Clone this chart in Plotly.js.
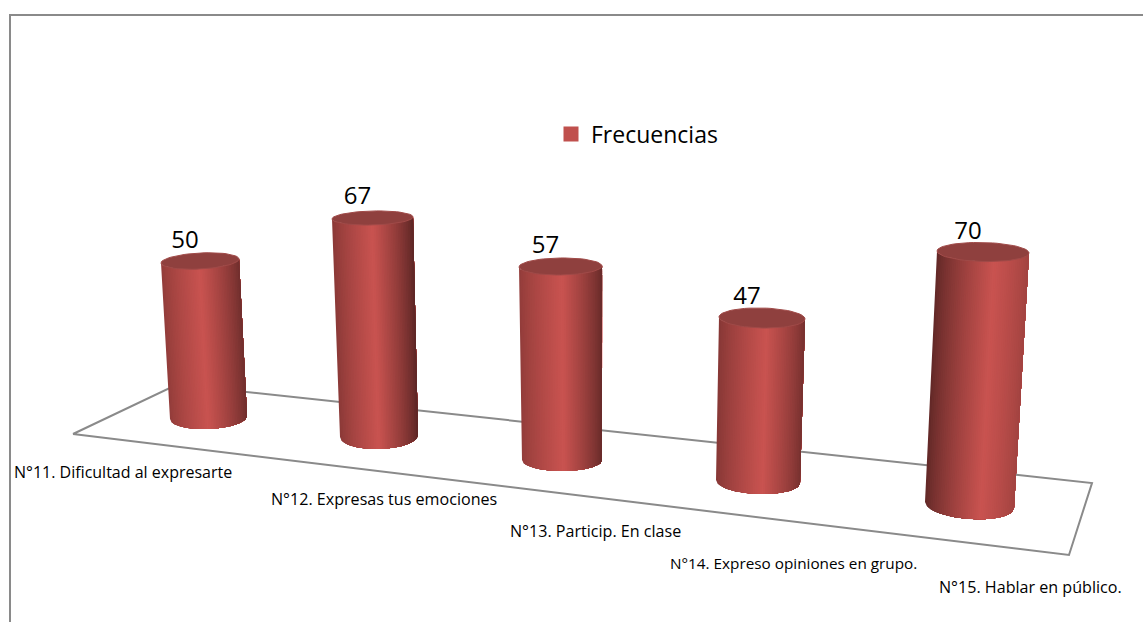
<!DOCTYPE html>
<html><head><meta charset="utf-8">
<script src="https://cdn.plot.ly/plotly-3.0.1.min.js"></script>
<style>html,body{margin:0;padding:0;background:#fff}#c{width:1143px;height:622px}</style>
</head><body><div id="c"></div>
<script>
// ---- data ----
const categories = ["N°11. Dificultad al expresarte","N°12. Expresas tus emociones","N°13. Particip. En clase","N°14. Expreso opiniones en grupo.","N°15. Hablar en público."];
const values = [50, 67, 57, 47, 70];
const seriesName = "Frecuencias";

// ---- 3D projection (pixel scene) ----
const baseX = [208.5, 379, 562, 758, 969.5];
const baseY = [417.5, 436, 460, 481.5, 505];
const unitH = [3.13, 3.254, 3.395, 3.479, 3.614];   // px per value unit
const lean  = [-0.17, -0.097, -0.026, 0.085, 0.193]; // px of x per value unit
const topRx = [39, 40.5, 41.5, 43, 46];
const topRy = [8, 7, 8.5, 10, 9.5];
const topTilt = [-2, -1, -0.5, 1, 1];
const botRx = [38.5, 39, 40, 42, 44.5];
const botRy = [11.5, 13, 11, 12.5, 14];
const botTilt = [-1.5, -1, 0, 1.5, 3];
const peakU = [0.5, 0.5, 0.52, 0.55, 0.62];
const darkL = [0.72, 0.68, 0.72, 0.66, 0.48];
const darkR = [0.55, 0.45, 0.5, 0.58, 0.8];
const floorX = [73, 177, 1092, 1069, 73];
const floorY = [434, 384.5, 483, 555, 434];
const labelX = [14, 271, 510, 670, 939];
const labelY = [473.5, 500.5, 533, 565.5, 588.5];
const labelSize = [16, 16.1, 16.1, 15.3, 16.1];
const frameX = [10, 10, 1143];
const frameY = [622, 15, 15];

const light = [201, 83, 80], STRIPS = 48, GRAY = "#8a8a8a";
const FONT = "Open Sans, Noto Sans, sans-serif";
const tops = values.map((v,i)=>({x: baseX[i]+lean[i]*v, y: baseY[i]-unitH[i]*v}));
const col = k => `rgb(${light.map(c=>Math.round(c*k)).join(",")})`;
function rim(cx,cy,rx,ry,tilt,u){ // front half of an ellipse, u 0..1 left to right
  const c = 2*u-1;
  return [cx+rx*c, cy+ry*Math.sqrt(Math.max(0,1-c*c))+tilt*c];
}
const traces = [];
traces.push({x:floorX,y:floorY,mode:"lines",line:{color:GRAY,width:2},hoverinfo:"skip",showlegend:false});
values.forEach((v,i)=>{
  for(let s=0;s<STRIPS;s++){
    const um=(s+0.5)/STRIPS,p=peakU[i];
    const t= um<p? um/p : (1-um)/(1-p);
    const d= um<p? darkL[i]:darkR[i];
    const k= d+(1-d)*Math.pow(t,0.8);
    // each band runs from its left edge to the cylinder's right edge, later bands paint over it
    const xs=[],ys=[];
    for(let q=s;q<=STRIPS;q++){const a=rim(tops[i].x,tops[i].y,topRx[i],topRy[i],topTilt[i],q/STRIPS);xs.push(a[0]);ys.push(a[1]);}
    for(let q=STRIPS;q>=s;q--){const a=rim(baseX[i],baseY[i],botRx[i],botRy[i],botTilt[i],q/STRIPS);xs.push(a[0]);ys.push(a[1]);}
    xs.push(xs[0]);ys.push(ys[0]);
    traces.push({x:xs,y:ys,mode:"lines",fill:"toself",fillcolor:col(k),line:{width:0},hoverinfo:"skip",showlegend:false});
  }
  const ex=[],ey=[];
  for(let a=0;a<=60;a++){const th=a/60*2*Math.PI;
    ex.push(tops[i].x+topRx[i]*Math.cos(th));
    ey.push(tops[i].y+topRy[i]*Math.sin(th)+topTilt[i]*Math.cos(th));}
  traces.push({x:ex,y:ey,mode:"lines",fill:"toself",fillcolor:"#8f403e",line:{color:"#a04a48",width:1},hoverinfo:"skip",showlegend:false});
});
traces.push({x:tops.map(t=>t.x-15),y:tops.map(t=>t.y-19.5),mode:"text",text:values.map(String),
  textposition:"middle center",textfont:{family:FONT,size:24,color:"#000"},hoverinfo:"text",showlegend:false});
traces.push({x:labelX,y:labelY,mode:"text",text:categories,textposition:"middle right",
  textfont:{family:FONT,size:labelSize,color:"#000"},hoverinfo:"text",showlegend:false});
traces.push({x:[null],y:[null],mode:"markers",name:seriesName,marker:{symbol:"square",size:15,color:"#C0504D"},showlegend:true});
traces.push({x:frameX,y:frameY,mode:"lines",line:{color:GRAY,width:2},hoverinfo:"skip",showlegend:false});

Plotly.newPlot("c",traces,{
  width:1143,height:622,margin:{l:0,r:0,t:0,b:0},paper_bgcolor:"#fff",plot_bgcolor:"#fff",
  xaxis:{range:[0,1143],visible:false,fixedrange:true},
  yaxis:{range:[622,0],visible:false,fixedrange:true},
  showlegend:true,
  legend:{x:551/1143,y:1-134/622,xanchor:"left",yanchor:"middle",bgcolor:"rgba(0,0,0,0)",
    font:{family:FONT,size:23,color:"#000"}}
},{displayModeBar:false,staticPlot:true});
</script></body></html>
